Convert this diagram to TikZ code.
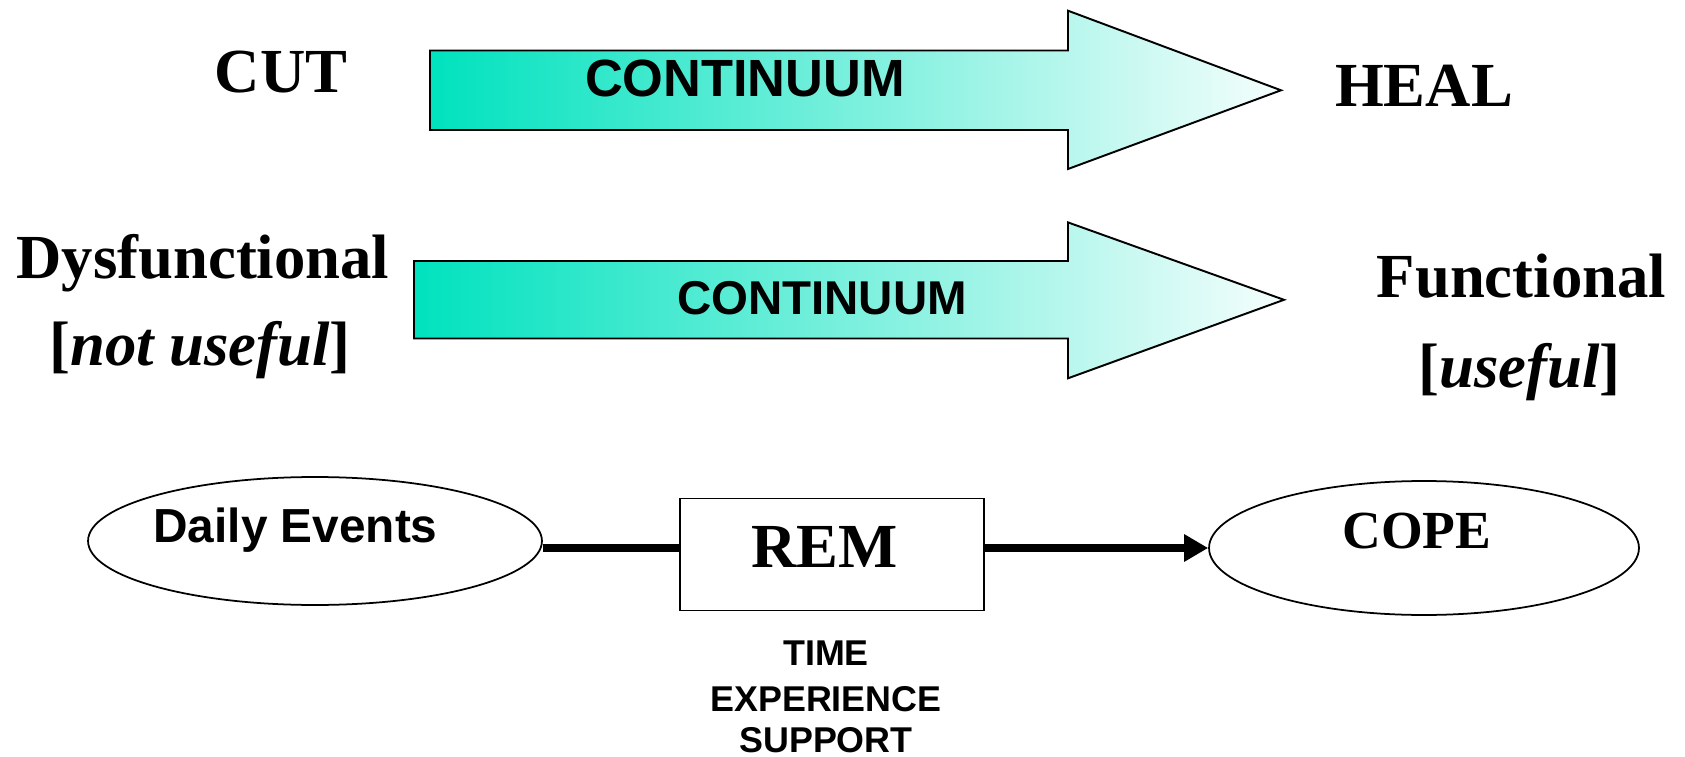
\documentclass[tikz,border=0pt]{standalone}
\usepackage{fontspec}
\setmainfont{Liberation Serif}
\setsansfont{Liberation Sans}
\usetikzlibrary{arrows.meta,shapes.geometric}
\definecolor{contgreen}{RGB}{0,226,190}

\begin{document}
\begin{tikzpicture}[x=0.02cm, y=-0.02cm,
  contarrow/.style={draw=black, line width=1.1pt, left color=contgreen,
    right color=contgreen!4},
  serifbig/.style={font=\fontsize{35.7}{42}\selectfont\bfseries, anchor=base, inner sep=0},
  sansbig/.style={font=\sffamily\bfseries\fontsize{29.8}{34}\selectfont, anchor=base, inner sep=0},
  sansmid/.style={font=\sffamily\bfseries\fontsize{27.2}{32}\selectfont, anchor=base, inner sep=0},
  sanssmall/.style={font=\sffamily\bfseries\fontsize{20.4}{24}\selectfont, anchor=base, inner sep=0},
  oval/.style={draw, ellipse, line width=1pt, inner sep=0},
  link/.style={line width=4.1pt}]
  \useasboundingbox (0,0) rectangle (1685,757);

  % Erste Skala: CUT -> HEAL
  \draw[contarrow] (430,50.5) -- (1068,50.5) -- (1068,10.7) -- (1281,90.3)
    -- (1068,169) -- (1068,130) -- (430,130) -- cycle;
  \node[sansbig] (cont1) at (745,96.7) {CONTINUUM};
  \node[serifbig] (cut) at (281,93) {CUT};
  \node[serifbig] (heal) at (1424,107) {HEAL};

  % Zweite Skala: Dysfunctional -> Functional
  \draw[contarrow] (414,261) -- (1068,261) -- (1068,222.4) -- (1284,299.8)
    -- (1068,378.3) -- (1068,338.5) -- (414,338.5) -- cycle;
  \node[sansbig, font=\sffamily\bfseries\fontsize{27}{31}\selectfont] (cont2)
    at (822,315) {CONTINUUM};
  \node[serifbig] (dys) at (203,278) {Dysfunctional};
  \node[serifbig] (notuse) at (200,365) {[\textit{not useful}]};
  \node[serifbig] (func) at (1521.5,297.7) {Functional};
  \node[serifbig] (use) at (1519.5,387) {[\textit{useful}]};

  % Ablauf unten
  \node[oval, minimum width=9.08cm, minimum height=2.56cm] (de) at (315,541) {};
  \node[sansmid] (delabel) at (295.5,542.7) {Daily Events};
  \node[draw, line width=0.9pt, minimum width=6.08cm, minimum height=2.24cm,
    inner sep=0] (rem) at (832,554.5) {};
  \node[serifbig] (remlabel) at (824.6,567) {REM};
  \node[oval, minimum width=8.6cm, minimum height=2.68cm] (cope) at (1424,548) {};
  \node[serifbig, font=\fontsize{30.5}{36}\selectfont\bfseries] (copelabel)
    at (1417,548) {COPE};

  \draw[link] (de.east |- cope) -- (rem.west |- cope);
  \draw[link, -{Triangle[length=0.48cm, width=0.52cm]}] (rem.east |- cope) -- (cope);

  \node[sanssmall] (time) at (826,665) {TIME};
  \node[sanssmall] (exper) at (826,711) {EXPERIENCE};
  \node[sanssmall] (supp) at (826,752) {SUPPORT};
\end{tikzpicture}
\end{document}
